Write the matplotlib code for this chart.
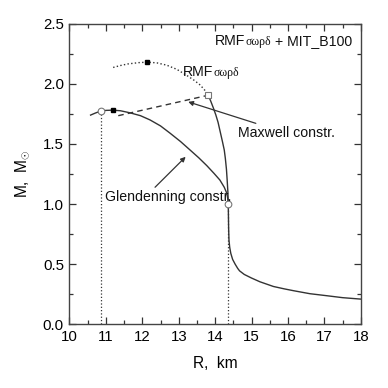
import matplotlib
matplotlib.use("Agg")
import matplotlib.pyplot as plt
from matplotlib.ticker import MultipleLocator

plt.rcParams['font.family'] = ['Liberation Sans', 'DejaVu Sans']
plt.rcParams['mathtext.fontset'] = 'custom'
plt.rcParams['mathtext.rm'] = 'Liberation Sans'

# Hadronic RMF branch (solid, stable part)
had_R = [13.81, 13.88, 13.95, 14.02, 14.08, 14.14, 14.20, 14.25, 14.28, 14.31, 14.33, 14.35, 14.36,
         14.365, 14.37, 14.38, 14.40, 14.43, 14.48, 14.55, 14.62, 14.67, 14.80, 15.00, 15.23, 15.60,
         15.90, 16.15, 16.60, 17.07, 17.50, 18.00]
had_M = [1.905, 1.855, 1.80, 1.74, 1.68, 1.60, 1.52, 1.45, 1.38, 1.29, 1.20, 1.10, 1.00,
         0.90, 0.80, 0.70, 0.64, 0.59, 0.54, 0.50, 0.465, 0.445, 0.415, 0.385, 0.354, 0.315,
         0.295, 0.28, 0.255, 0.238, 0.222, 0.21]

# Hadronic RMF branch continued (dotted, metastable)
rmf_R = [11.20, 11.40, 11.60, 11.90, 12.14, 12.40, 12.67, 12.95, 13.22, 13.42, 13.59, 13.72, 13.81]
rmf_M = [2.136, 2.152, 2.165, 2.176, 2.18, 2.174, 2.155, 2.12, 2.07, 2.03, 1.99, 1.945, 1.905]

# Glendenning construction hybrid branch
gl_R = [10.58, 10.72, 10.86, 11.00, 11.19, 11.40, 11.66, 11.95, 12.21, 12.50, 12.76, 13.05, 13.31,
        13.55, 13.77, 13.97, 14.13, 14.25, 14.32, 14.35, 14.36]
gl_M = [1.74, 1.758, 1.773, 1.779, 1.781, 1.776, 1.759, 1.735, 1.70, 1.65, 1.59, 1.52, 1.45,
        1.385, 1.32, 1.255, 1.20, 1.14, 1.09, 1.04, 1.00]

# Maxwell construction branch
mx_R = [11.34, 13.81]
mx_M = [1.735, 1.905]

# Special points
max_R = [12.14, 11.19]
max_M = [2.18, 1.781]
open_circ_R = [10.86, 14.36]
open_circ_M = [1.773, 1.0]
open_sq_R = [13.81]
open_sq_M = [1.905]

xticks = [10, 11, 12, 13, 14, 15, 16, 17, 18]
yticks = [0.0, 0.5, 1.0, 1.5, 2.0, 2.5]

lc = '#333333'
fig = plt.figure(figsize=(3.88, 3.88), dpi=100)
ax = fig.add_axes([0.179, 0.164, 0.751, 0.775])

ax.plot(had_R, had_M, '-', color=lc, lw=1.0)
ax.plot(rmf_R, rmf_M, ':', color=lc, lw=1.0)
ax.plot(gl_R, gl_M, '-', color=lc, lw=1.0)
ax.plot(mx_R, mx_M, '--', color=lc, lw=1.0, dashes=(4, 3))

# vertical dotted lines
for r, m in zip(open_circ_R, open_circ_M):
    ax.plot([r, r], [0, m], ':', color=lc, lw=0.9)

ax.plot(max_R, max_M, 's', color='black', ms=2.8)
ax.plot(open_circ_R, open_circ_M, 'o', mfc='white', mec='#777777', ms=4.8, mew=0.8)
ax.plot(open_sq_R, open_sq_M, 's', mfc='white', mec='#777777', ms=4.5, mew=0.8)

ax.set_xlim(10, 18)
ax.set_ylim(0, 2.5)
ax.set_xticks(xticks)
ax.set_yticks(yticks)
ax.set_xticklabels([str(v) for v in xticks])
ax.set_yticklabels([f"{v:.1f}" for v in yticks])
ax.xaxis.set_minor_locator(MultipleLocator(0.5))
ax.yaxis.set_minor_locator(MultipleLocator(0.25))
ax.tick_params(which='both', direction='in', top=True, right=True, color=lc, width=0.9)
ax.tick_params(which='major', length=5, labelsize=10.8, pad=4)
ax.tick_params(which='minor', length=3)
for s in ax.spines.values():
    s.set_color('#444444')
    s.set_linewidth(1.0)

ax.set_xlabel("R,  km", fontsize=11.2, labelpad=9)
ax.set_ylabel(r"M,  M$_{\odot}$", fontsize=11.2, labelpad=8)

# labels with Greek letters in smaller serif font
def greek_label(x, y, pre, greek, post=""):
    t1 = ax.text(x, y, pre, fontsize=10.2, va='baseline', ha='left', color='#111111')
    t2 = ax.annotate(greek, xy=(1, 0), xycoords=t1, va='bottom', ha='left',
                     fontsize=8.5, family='Liberation Serif', color='#111111')
    if post:
        ax.annotate(post, xy=(1, 0), xycoords=t2, va='bottom', ha='left',
                    fontsize=10.2, color='#111111')

greek_label(14.0, 2.325, "RMF", "σωρδ", " + MIT_B100")
greek_label(13.12, 2.065, "RMF", "σωρδ")

ax.annotate("Maxwell constr.", xy=(13.26, 1.85), xytext=(14.63, 1.59),
            fontsize=10.2, va='center', ha='left', color='#111111',
            arrowprops=dict(arrowstyle='-|>', color=lc, lw=0.9, mutation_scale=7,
                            shrinkA=0, shrinkB=0))
ax.annotate("", xy=(13.19, 1.393), xytext=(12.35, 1.14),
            arrowprops=dict(arrowstyle='-|>', color=lc, lw=0.9, mutation_scale=7,
                            shrinkA=0, shrinkB=0))
ax.text(10.98, 1.06, "Glendenning constr.", fontsize=10.2, va='center', ha='left', color='#111111')

fig.savefig("out.png", dpi=100)
